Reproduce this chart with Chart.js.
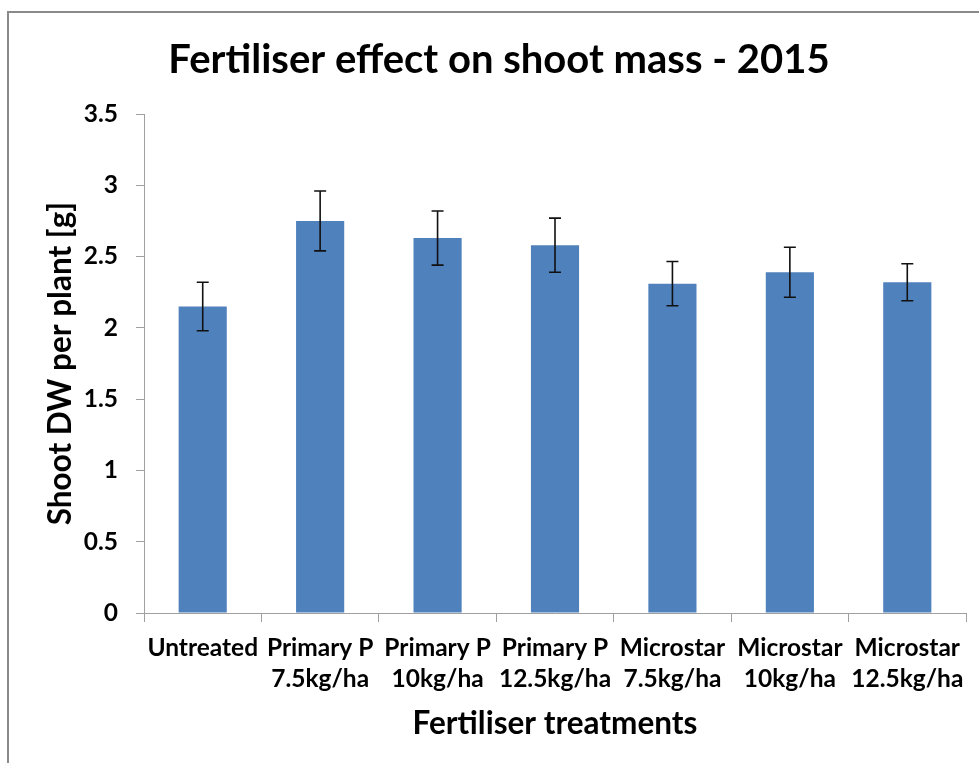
<!DOCTYPE html>
<html>
<head>
<meta charset="utf-8">
<script src="https://cdn.jsdelivr.net/npm/chart.js@4/dist/chart.umd.min.js"></script>
<style>
  html, body { margin: 0; padding: 0; background: #fff; overflow: hidden; }
  #frame { position: absolute; left: 7px; top: 11px; width: 2000px; height: 2000px; border: 2px solid #8a8a8a; box-sizing: border-box; }
  #c { position: absolute; left: 0; top: 0; }
</style>
</head>
<body>
<div id="frame"></div>
<canvas id="c" width="979" height="763"></canvas>
<script>
const chartTitle = "Fertiliser effect on shoot mass - 2015";
const xAxisTitle = "Fertiliser treatments";
const yAxisTitle = "Shoot DW per plant [g]";
const categories = [
  "Untreated",
  ["Primary P", "7.5kg/ha"],
  ["Primary P", "10kg/ha"],
  ["Primary P", "12.5kg/ha"],
  ["Microstar", "7.5kg/ha"],
  ["Microstar", "10kg/ha"],
  ["Microstar", "12.5kg/ha"]
];
const shootDW = [2.15, 2.75, 2.63, 2.58, 2.31, 2.39, 2.32];
const errorDW = [0.17, 0.21, 0.19, 0.19, 0.155, 0.175, 0.13];
const yMin = 0, yMax = 3.5, yStep = 0.5;

const FONT = "Lato";

const errorBars = {
  id: 'errorBars',
  afterDatasetsDraw(chart) {
    const ctx = chart.ctx;
    const meta = chart.getDatasetMeta(0);
    const ys = chart.scales.y;
    ctx.save();
    ctx.strokeStyle = '#111';
    ctx.lineWidth = 1.6;
    meta.data.forEach((bar, i) => {
      const v = shootDW[i], e = errorDW[i];
      const yt = ys.getPixelForValue(v + e);
      const yb = ys.getPixelForValue(v - e);
      const x = bar.x;
      const cap = 6;
      ctx.beginPath();
      ctx.moveTo(x, yt); ctx.lineTo(x, yb);
      ctx.moveTo(x - cap, yt); ctx.lineTo(x + cap, yt);
      ctx.moveTo(x - cap, yb); ctx.lineTo(x + cap, yb);
      ctx.stroke();
    });
    ctx.restore();
  }
};

new Chart(document.getElementById('c'), {
  type: 'bar',
  data: {
    labels: categories,
    datasets: [{
      data: shootDW,
      backgroundColor: '#4F81BD',
      borderWidth: 0,
      categoryPercentage: 1.0,
      barPercentage: 0.41
    }]
  },
  plugins: [errorBars],
  options: {
    responsive: false,
    animation: false,
    devicePixelRatio: 1,
    layout: { padding: { left: 32, right: 13, top: 0, bottom: 0 } },
    plugins: {
      legend: { display: false },
      tooltip: { enabled: false },
      title: {
        display: true,
        text: chartTitle,
        color: '#000',
        font: { family: FONT, size: 40, weight: 'bold', lineHeight: 1.2 },
        padding: { top: 36, bottom: 30 }
      }
    },
    scales: {
      x: {
        afterFit(scale) { scale.height = 150; },
        grid: { display: true, drawOnChartArea: false, drawTicks: true, tickLength: 9, color: '#a0a0a0', offset: true },
        border: { display: true, color: '#a0a0a0', width: 1 },
        ticks: {
          color: '#000',
          font: { family: FONT, size: 24.5, weight: 'bold', lineHeight: 31.7 / 24.5 },
          padding: 10,
          maxRotation: 0, minRotation: 0, autoSkip: false
        },
        title: {
          display: true,
          text: xAxisTitle,
          color: '#000',
          font: { family: FONT, size: 31.5, weight: 'bold', lineHeight: 1.2 },
          padding: { top: 0, bottom: 20 }
        }
      },
      y: {
        min: yMin, max: yMax,
        afterFit(scale) { scale.width = 112; },
        grid: { display: true, drawOnChartArea: false, drawTicks: true, tickLength: 8, color: '#a0a0a0' },
        border: { display: true, color: '#a0a0a0', width: 1 },
        ticks: {
          stepSize: yStep,
          color: '#000',
          font: { family: FONT, size: 24.5, weight: 'bold' },
          padding: 18,
          callback: (value) => String(value)
        },
        title: {
          display: true,
          text: yAxisTitle,
          color: '#000',
          font: { family: FONT, size: 31.5, weight: 'bold', lineHeight: 1.2 },
          padding: { top: 10, bottom: 0 }
        }
      }
    }
  }
});
</script>
</body>
</html>
